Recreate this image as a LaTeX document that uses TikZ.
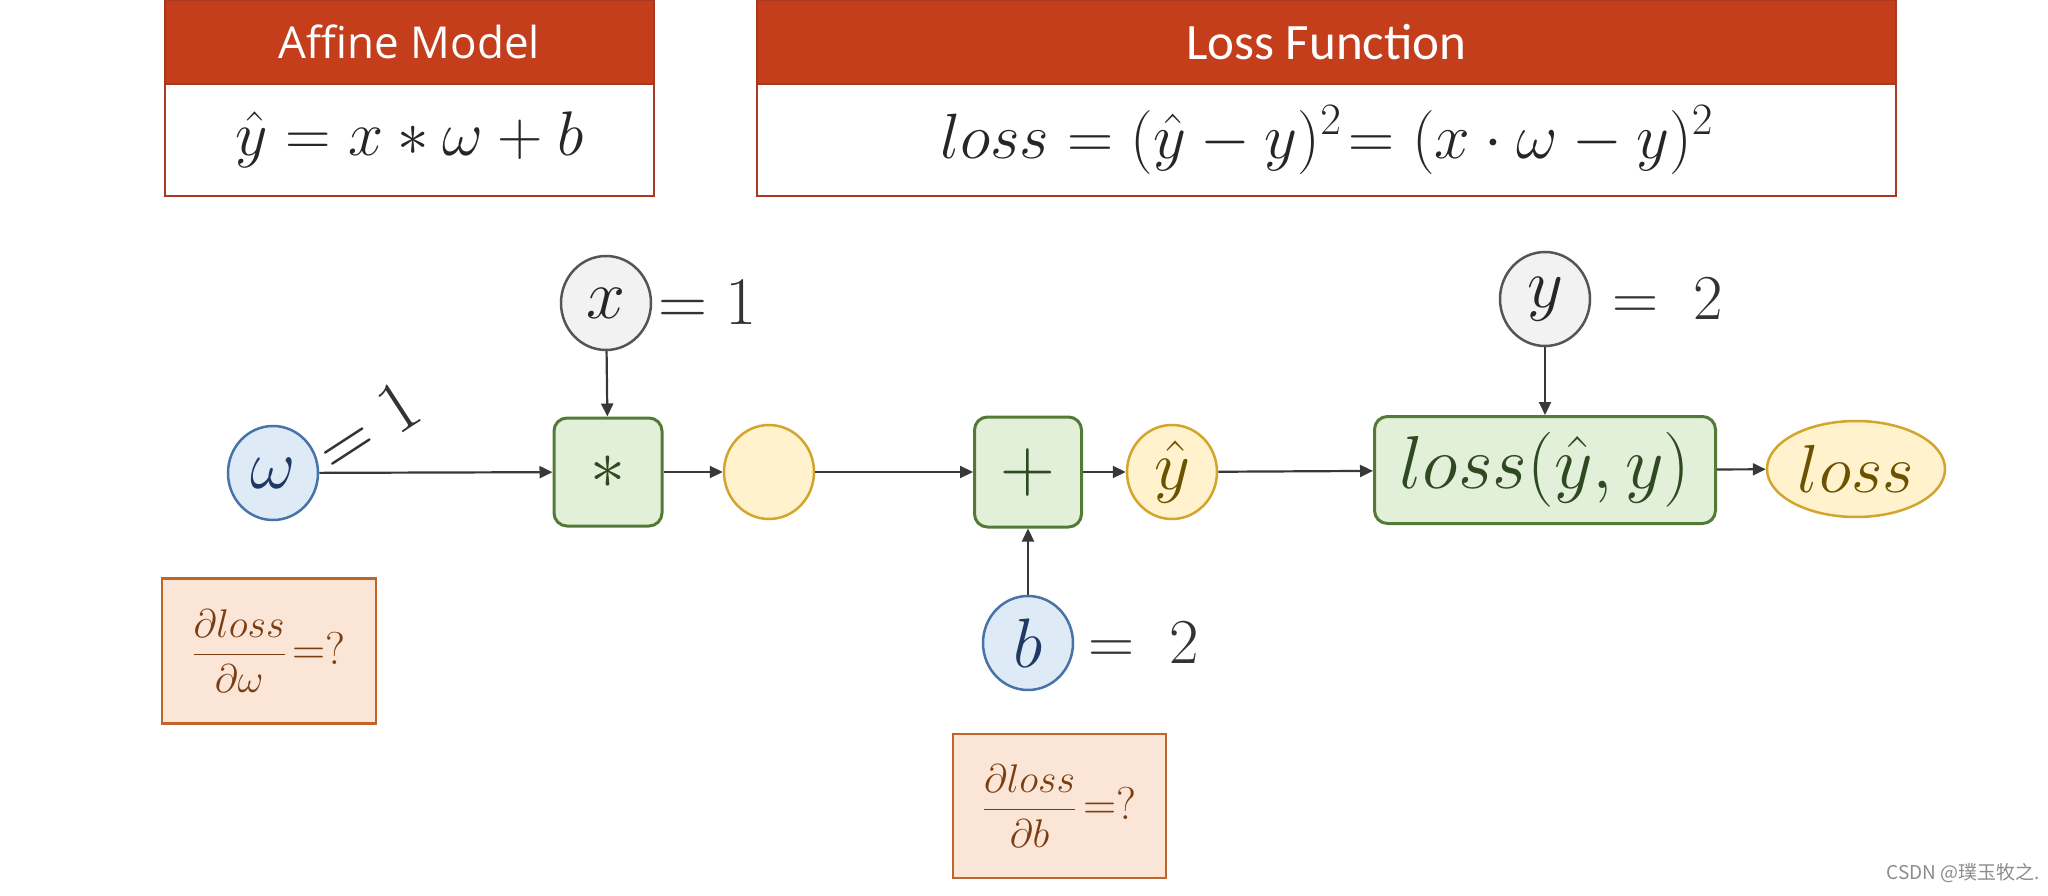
\RequirePackage{fix-cm}
\documentclass[tikz,border=0pt]{standalone}
\usepackage{amsmath}
\usepackage{fontspec}
\newfontfamily\segoe{Open Sans}
\newfontfamily\calib{Carlito}
\newfontfamily\wmfont{Noto Sans CJK SC}
\usetikzlibrary{arrows.meta,shapes.geometric}
\definecolor{hdrred}{HTML}{C43E1C}
\definecolor{hdrborder}{HTML}{A8391E}
\definecolor{gfill}{HTML}{E2F0D9}
\definecolor{gdraw}{HTML}{557A38}
\definecolor{gtext}{HTML}{2F4A22}
\definecolor{bfill}{HTML}{DEEBF7}
\definecolor{bdraw}{HTML}{4673A8}
\definecolor{btext}{HTML}{1F3864}
\definecolor{yfill}{HTML}{FFF2CC}
\definecolor{ydraw}{HTML}{D4A52C}
\definecolor{ytext}{HTML}{6B5200}
\definecolor{kfill}{HTML}{F2F2F2}
\definecolor{kdraw}{HTML}{555555}
\definecolor{ktext}{HTML}{262626}
\definecolor{ofill}{HTML}{FBE5D6}
\definecolor{odraw}{HTML}{C0652A}
\definecolor{otext}{HTML}{7A3E12}
\definecolor{arr}{HTML}{383838}
\begin{document}
\begin{tikzpicture}[x=1pt,y=-1pt,
  hdr/.style={fill=hdrred, draw=hdrborder, line width=2.5pt, text=white, inner sep=0pt},
  bodybox/.style={fill=white, draw=hdrborder, line width=2.5pt, inner sep=0pt, text=black!85},
  circ/.style={ellipse, minimum width=90pt, minimum height=94pt, inner sep=0pt, line width=2.5pt,
    font=\fontsize{70}{76}\selectfont},
  bluec/.style={circ, fill=bfill, draw=bdraw, text=btext},
  grayc/.style={circ, fill=kfill, draw=kdraw, text=ktext},
  yelc/.style={circ, fill=yfill, draw=ydraw, text=ytext},
  op/.style={rectangle, rounded corners=13pt, fill=gfill, draw=gdraw, line width=3pt, inner sep=0pt,
    text=gtext, font=\fontsize{70}{76}\selectfont},
  val/.style={inner sep=0pt, text=black!80, font=\fontsize{64}{70}\selectfont},
  fracbox/.style={rectangle, fill=ofill, draw=odraw, line width=2.5pt, inner sep=0pt, text=otext,
    font=\fontsize{40}{46}\selectfont},
  conn/.style={draw=arr, line width=2.2pt, -{Triangle[length=13pt,width=12pt]}}
]
\useasboundingbox (0,0) rectangle (2048,896);
\fill[white] (0,0) rectangle (2048,896);

% header boxes
\node[bodybox, minimum width=489pt, minimum height=112pt, font=\fontsize{63}{70}\selectfont] (affB) at (409.5,140) {$\hat{y} = x * \omega + b$};
\node[hdr, minimum width=489pt, minimum height=84pt, font=\segoe\fontsize{44}{50}\selectfont] (affH) at (409.5,42) {Affine Model};
\node[bodybox, minimum width=1139pt, minimum height=112pt, font=\fontsize{64}{70}\selectfont] (lossB) at (1326.5,140) {$loss = (\hat{y} - y)^2\!= (x \cdot \omega - y)^2$};
\node[hdr, minimum width=1139pt, minimum height=84pt, font=\calib\fontsize{51}{56}\selectfont] (lossH) at (1326.5,42) {Loss Function};

% graph nodes
\node[bluec] (om) at (273,473) {$\omega$};
\node[grayc] (x) at (606,303) {$x$};
\node[op, minimum width=108pt, minimum height=108pt] (mul) at (608,472) {$*$};
\node[yelc] (h) at (769,472) {};
\node[op, minimum width=107pt, minimum height=110pt, font=\fontsize{76}{80}\selectfont] (add) at (1028,472) {$+$};
\node[yelc] (yh) at (1172,472) {$\hat{y}$};
\node[op, minimum width=341pt, minimum height=107pt, font=\fontsize{75}{80}\selectfont] (lf) at (1545,470) {$loss(\hat{y},y)$};
\node[yelc, minimum width=178pt, minimum height=96pt, font=\fontsize{68}{74}\selectfont] (loss) at (1856,469) {$loss$};
\node[grayc] (y) at (1545,299) {$y$};
\node[bluec] (b) at (1028,643) {$b$};

% values
\node[val, anchor=west, font=\fontsize{68}{74}\selectfont] (xv) at (658,303) {$=1$};
\node[val, anchor=west] (yv) at (1612,299) {$=\;2$};
\node[val, anchor=west] (bv) at (1088,643) {$=\;2$};
\node[val, rotate=33, font=\fontsize{74}{80}\selectfont] (omv) at (368,427) {$=1$};

% connectors
\draw[conn] (om) -- (mul);
\draw[conn] (x) -- (mul);
\draw[conn] (mul) -- (h);
\draw[conn] (h) -- (add);
\draw[conn] (add) -- (yh);
\draw[conn] (yh) -- (lf);
\draw[conn] (y) -- (lf);
\draw[conn] (lf) -- (loss);
\draw[conn] (b) -- (add);

% gradient boxes
\node[fracbox, minimum width=214pt, minimum height=145pt] (dw) at (269,651) {$\dfrac{\partial loss}{\partial \omega}$\,{\fontsize{46}{50}\selectfont =?}};
\node[fracbox, minimum width=213pt, minimum height=144pt] (db) at (1059.5,806) {$\dfrac{\partial loss}{\partial b}$\,{\fontsize{46}{50}\selectfont =?}};

% watermark
\node[anchor=east, inner sep=0pt, text=black!45, font=\wmfont\fontsize{19}{22}\selectfont] (wm) at (2040,873) {CSDN @璞玉牧之.};
\end{tikzpicture}
\end{document}
